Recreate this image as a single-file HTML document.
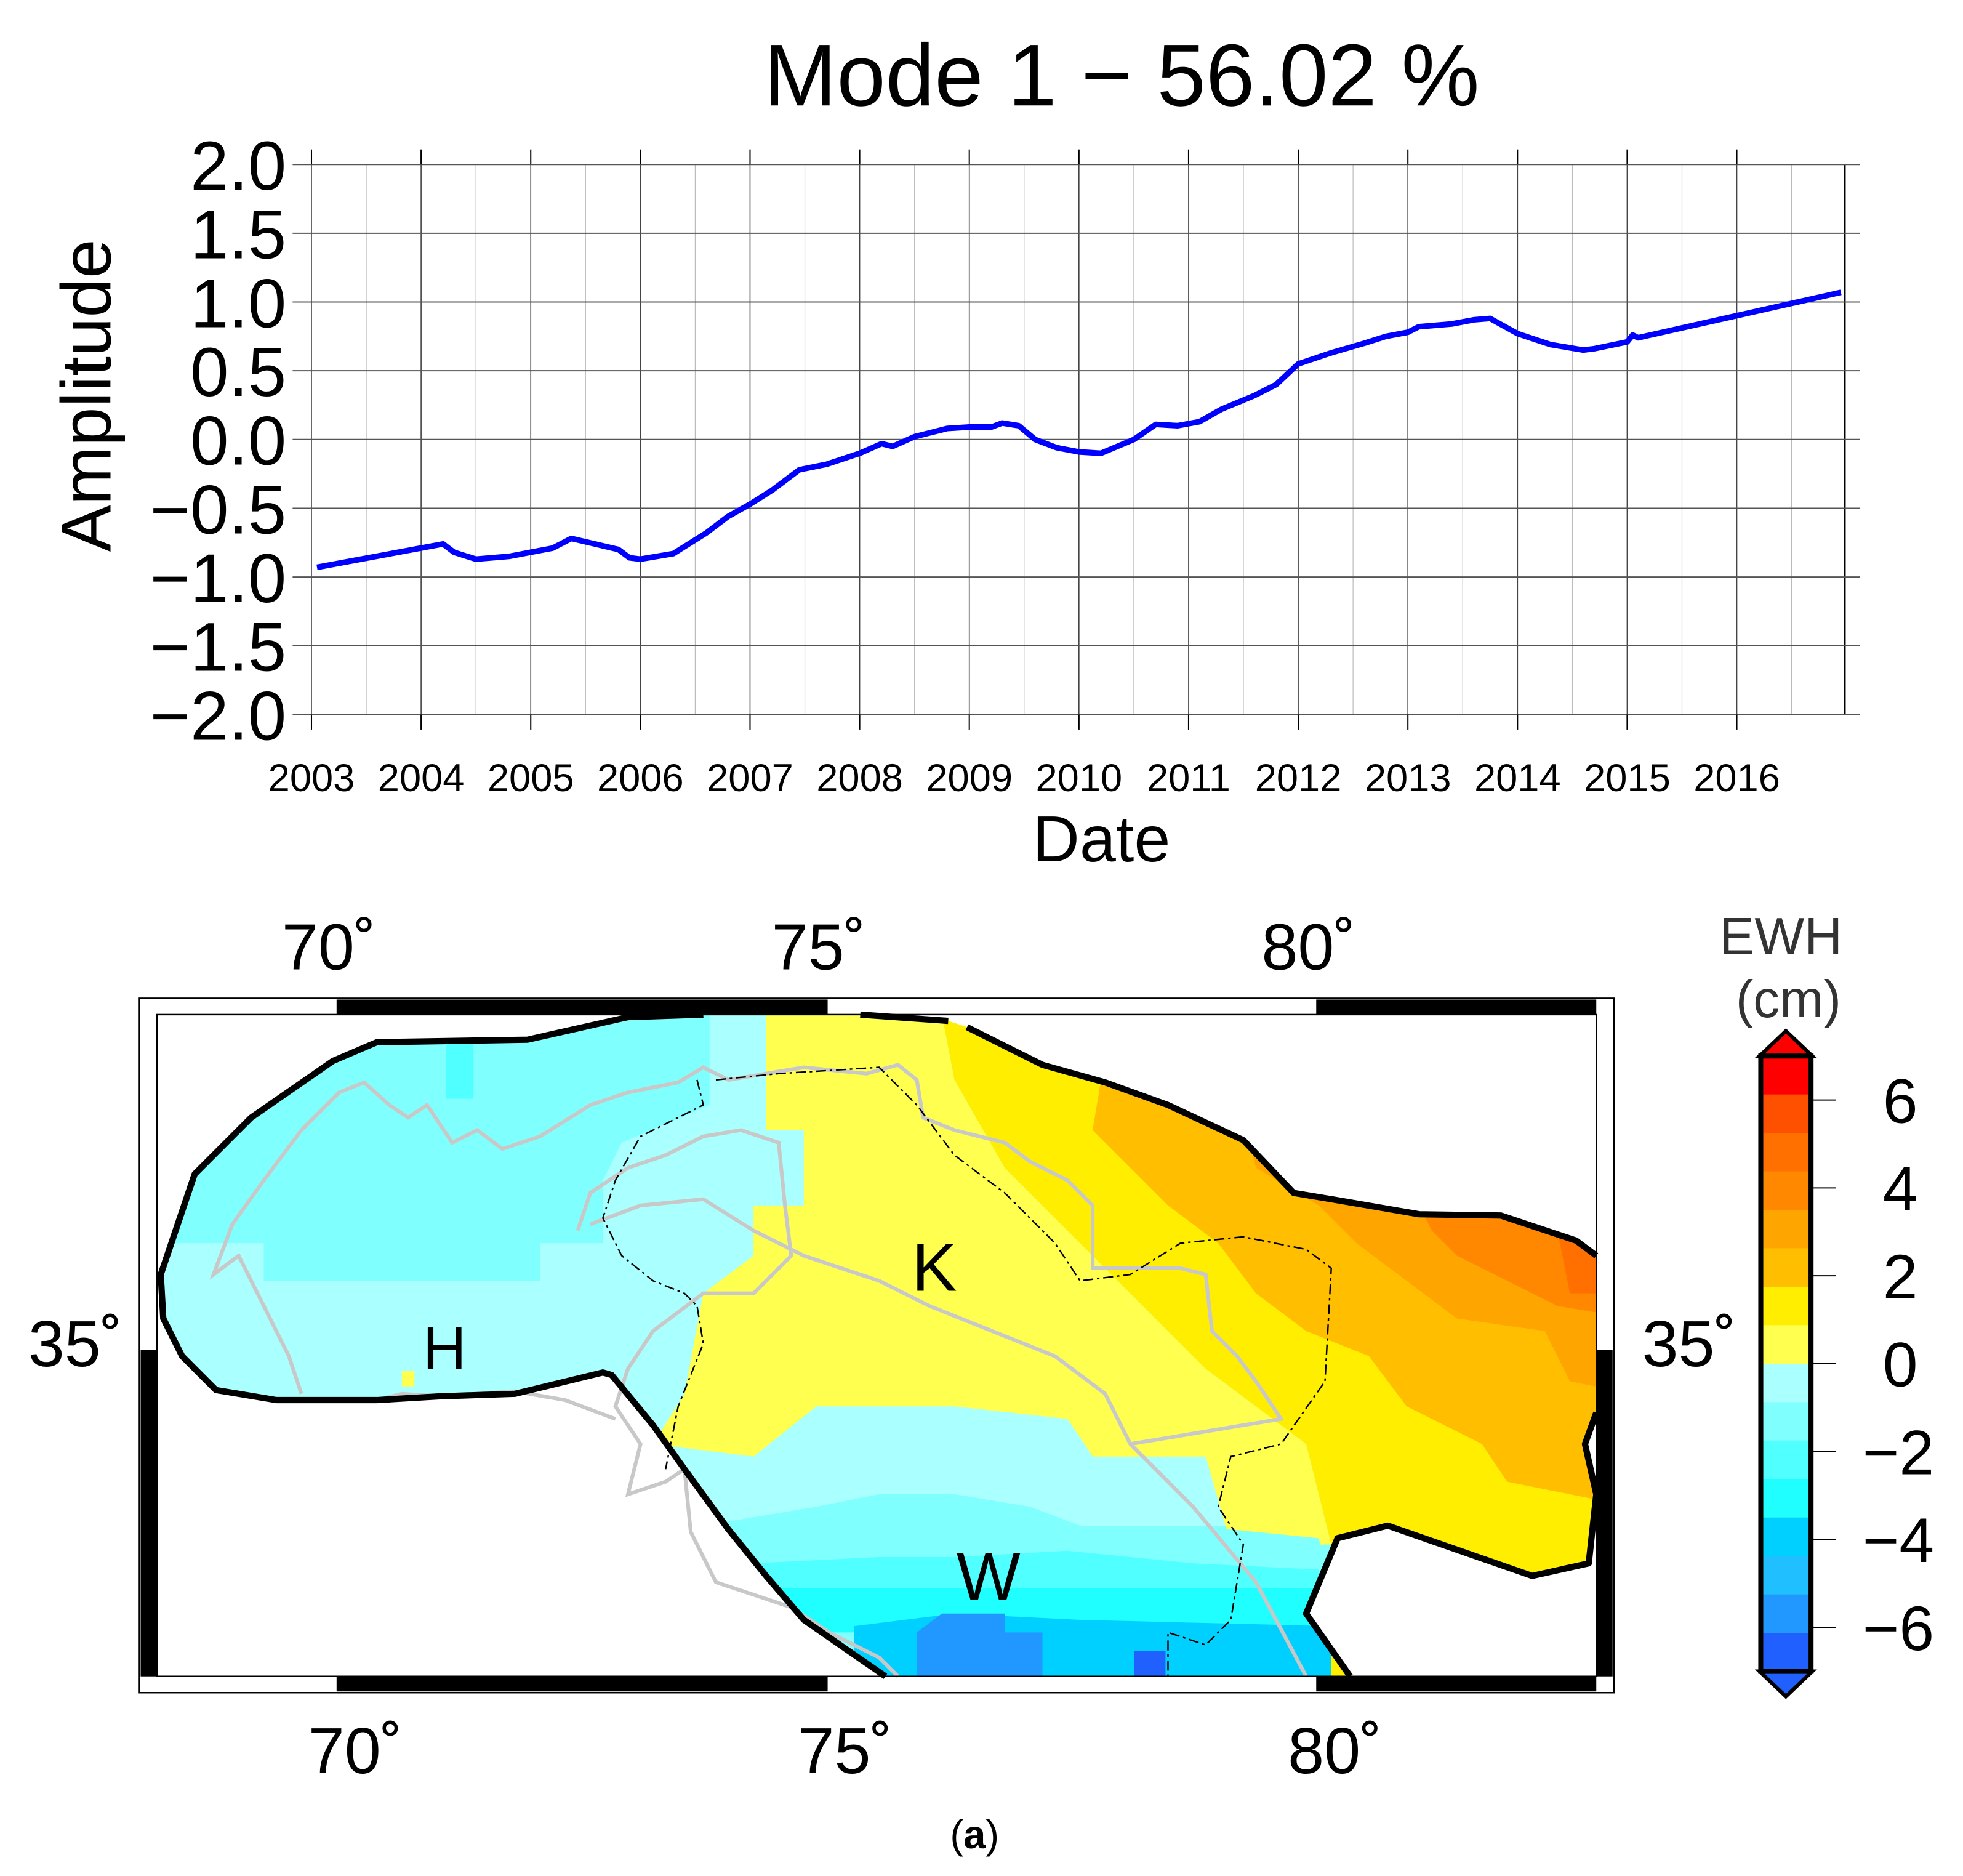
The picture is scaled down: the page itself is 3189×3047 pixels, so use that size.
<!DOCTYPE html>
<html><head><meta charset="utf-8"><style>
html,body{margin:0;padding:0;background:#fff;}
svg{display:block;}
text{font-family:"Liberation Sans",sans-serif;}
</style></head><body>
<svg id="fig" width="3189" height="3047" viewBox="0 0 1563 1494" preserveAspectRatio="none" xmlns="http://www.w3.org/2000/svg">
<rect width="1563" height="1494" fill="#fff"/>
<g id="chart">
  <text x="893" y="84" font-size="70" text-anchor="middle">Mode 1 − 56.02 %</text>
  <g id="grid"></g>
  <g id="yticks"></g>
  <g id="xticks"></g>
  <text transform="translate(88,315) rotate(-90)" font-size="56" text-anchor="middle">Amplitude</text>
  <text x="877" y="686" font-size="52" text-anchor="middle">Date</text>
  <path id="series" fill="none" stroke="#0000ff" stroke-width="4.5" stroke-linejoin="round"/>
</g>

<g id="map">
  <defs>
    <clipPath id="outlineClip">
      <path d="M560,808 L685,808 L755,813 L770,818 L830,848 L880,862 L930,880 L990,908 L1030,950 L1060,955 L1130,967 L1195,968 L1255,988 L1271,1000 L1271,1125 L1262,1150 L1271,1190 L1265,1245 L1220,1255 L1105,1215 L1065,1225 L1040,1285 L1075,1335 L705,1335 L640,1290 L610,1255 L580,1218 L545,1170 L520,1135 L487,1095 L480,1093 L410,1110 L350,1112 L300,1115 L220,1115 L172,1107 L145,1080 L130,1050 L128,1015 L155,935 L200,890 L265,845 L300,830 L420,828 L500,810 Z"/>
    </clipPath>
  </defs>
  <g clip-path="url(#outlineClip)">
    <rect x="120" y="800" width="1160" height="540" fill="#80ffff"/>
    <rect x="355" y="830" width="22" height="45" fill="#50ffff"/>
    <path fill="#aaffff" d="M130,990 L210,990 L210,1020 L430,1020 L430,990 L480,990 L480,940 L495,910 L565,880 L565,808 L615,808 L615,900 L640,900 L640,960 L600,960 L600,1000 L560,1030 L545,1110 L520,1200 L120,1200 Z"/>
    <path fill="#aaffff" d="M500,1100 L1100,1100 L1100,1215 L860,1215 L820,1200 L760,1190 L700,1190 L650,1200 L560,1215 L500,1215 Z"/>
    <path fill="#ffff50" d="M610,808 L750,808 L760,860 L800,930 L870,1000 L960,1090 L1040,1150 L1060,1230 L980,1230 L960,1160 L870,1160 L850,1130 L760,1120 L650,1120 L600,1160 L520,1150 L545,1110 L560,1030 L600,1000 L600,960 L640,960 L640,900 L610,900 Z"/>
    <path fill="#ffee00" d="M750,808 L880,840 L1300,840 L1300,1340 L1060,1340 L1060,1230 L1040,1150 L960,1090 L870,1000 L800,930 L760,860 Z"/>
    <path fill="#ffbe00" d="M880,840 L1300,840 L1300,1200 L1250,1190 L1200,1180 L1180,1150 L1120,1120 L1090,1080 L1040,1060 L1000,1030 L970,990 L930,960 L890,920 L870,900 Z"/>
    <path fill="#ffa500" d="M990,890 L1300,890 L1300,1110 L1250,1100 L1230,1060 L1160,1050 L1120,1020 L1080,990 L1050,960 L1000,930 Z"/>
    <path fill="#ff8800" d="M1130,960 L1300,960 L1300,1050 L1240,1040 L1200,1020 L1160,1000 L1140,980 Z"/>
    <path fill="#ff7000" d="M1240,980 L1300,980 L1300,1030 L1250,1030 Z"/>
    <path fill="#80ffff" d="M560,1215 L650,1200 L700,1190 L760,1190 L820,1200 L860,1215 L950,1215 L1050,1225 L1060,1265 L560,1265 Z"/>
    <path fill="#50ffff" d="M600,1245 L700,1240 L760,1240 L850,1235 L950,1245 L1050,1250 L1060,1290 L600,1290 Z"/>
    <path fill="#20ffff" d="M620,1265 L1050,1265 L1050,1300 L620,1300 Z"/>
    <path fill="#00d0ff" d="M680,1295 L760,1285 L860,1290 L1060,1295 L1060,1340 L680,1340 Z"/>
    <path fill="#2098ff" d="M730,1300 L750,1285 L800,1285 L800,1300 L830,1300 L830,1340 L730,1340 Z"/>
    <rect x="903" y="1315" width="25" height="20" fill="#2060ff"/>
    <rect x="320" y="1092" width="10" height="12" fill="#ffff50"/>
  </g>
  <g fill="none" stroke="#c8c8c8" stroke-width="3">
    <path d="M240,1110 L230,1080 L205,1030 L190,1000 L170,1015 L185,975 L210,940 L240,900 L270,870 L290,862 L310,880 L325,890 L340,880 L350,895 L360,910 L380,900 L400,915 L430,905 L470,880 L500,870 L540,862 L560,850 L580,860 L610,855 L640,850 L690,855 L715,848 L730,860 L735,890 L760,900 L800,910 L820,925 L850,940 L870,960 L870,1010 L900,1010 L940,1010 L960,1015 L965,1060 L985,1080 L1000,1100 L1020,1130 L960,1140 L900,1150"/>
    <path d="M460,980 L470,950 L500,930 L530,920 L560,905 L590,900 L620,910 L625,960 L630,1000 L600,1030 L560,1030 L520,1060 L500,1090 L490,1120 L510,1150 L500,1190 L530,1180 L545,1170 L550,1220 L570,1260 L600,1270 L630,1280 L660,1300 L700,1320 L715,1335"/>
    <path d="M470,975 L510,960 L560,955 L600,980 L640,1000 L700,1020 L740,1040 L790,1060 L840,1080 L880,1110 L900,1150 L950,1200 L1000,1260 L1040,1335"/>
    <path d="M300,1115 L320,1110 L350,1112 L380,1110 L410,1108 L450,1115 L490,1130"/>
  </g>
  <g fill="none" stroke="#000" stroke-width="1.2" stroke-dasharray="8,3,2,3">
    <path d="M555,860 L560,880 L510,905 L490,940 L480,970 L495,1000 L520,1020 L545,1030 L555,1040 L560,1070 L540,1120 L530,1170"/>
    <path d="M570,860 L620,855 L700,850 L730,880 L760,920 L800,950 L840,990 L860,1020 L900,1015 L940,990 L990,985 L1040,995 L1060,1010 L1055,1100 L1020,1150 L980,1160 L970,1200 L990,1230 L980,1290 L960,1310 L930,1300 L930,1335"/>
  </g>
  <path fill="none" stroke="#000" stroke-width="5" stroke-linejoin="round" d="M560,808 L500,810 L420,828 L300,830 L265,845 L200,890 L155,935 L128,1015 L130,1050 L145,1080 L172,1107 L220,1115 L300,1115 L350,1112 L410,1110 L480,1093 L487,1095 L520,1135 L545,1170 L580,1218 L610,1255 L640,1290 L705,1335 M685,808 L755,813 M770,818 L830,848 L880,862 L930,880 L990,908 L1030,950 L1060,955 L1130,967 L1195,968 L1255,988 L1271,1000 M1271,1125 L1262,1150 L1271,1190 L1265,1245 L1220,1255 L1105,1215 L1065,1225 L1040,1285 L1075,1335"/>
  <g>
    <rect x="111" y="795" width="1174" height="553" fill="none" stroke="#000" stroke-width="1.2"/>
    <rect x="125" y="808" width="1146" height="527" fill="none" stroke="#000" stroke-width="1.2"/>
    <rect x="268" y="796" width="391" height="12" fill="#000"/>
    <rect x="1048" y="796" width="223" height="12" fill="#000"/>
    <rect x="268" y="1335" width="391" height="12" fill="#000"/>
    <rect x="1048" y="1335" width="223" height="12" fill="#000"/>
    <rect x="112" y="1075" width="13" height="260" fill="#000"/>
    <rect x="1271" y="1075" width="13" height="260" fill="#000"/>
  </g>
  <g font-size="52">
    <text x="262" y="772" text-anchor="middle">70˚</text>
    <text x="652" y="772" text-anchor="middle">75˚</text>
    <text x="1042" y="772" text-anchor="middle">80˚</text>
    <text x="283" y="1412" text-anchor="middle">70˚</text>
    <text x="673" y="1412" text-anchor="middle">75˚</text>
    <text x="1063" y="1412" text-anchor="middle">80˚</text>
    <text x="60" y="1088" text-anchor="middle">35˚</text>
    <text x="1345" y="1088" text-anchor="middle">35˚</text>
    <text x="354" y="1090" text-anchor="middle" font-size="48">H</text>
    <text x="744" y="1028" text-anchor="middle" font-size="54">K</text>
    <text x="787" y="1274" text-anchor="middle" font-size="54">W</text>
  </g>
  <g id="colorbar">
    <text x="1418" y="760" font-size="42" text-anchor="middle" fill="#333">EWH</text>
    <text x="1424" y="810" font-size="42" text-anchor="middle" fill="#333">(cm)</text>
  </g>
</g>
<text x="776" y="1472" font-size="32" text-anchor="middle" font-family="Liberation Serif, serif">(<tspan font-weight="bold">a</tspan>)</text>
</svg>
<script>
const yearTicks=[2003,2004,2005,2006,2007,2008,2009,2010,2011,2012,2013,2014,2015,2016];
const yTicks=[2.0,1.5,1.0,0.5,0.0,-0.5,-1.0,-1.5,-2.0];
const seriesDates=[2003.05,2004.2,2004.3,2004.5,2004.8,2005.2,2005.37,2005.8,2005.9,2006.0,2006.3,2006.6,2006.8,2007.0,2007.2,2007.45,2007.7,2008.0,2008.2,2008.3,2008.5,2008.8,2009.0,2009.2,2009.3,2009.45,2009.6,2009.8,2010.0,2010.2,2010.5,2010.7,2010.9,2011.1,2011.3,2011.6,2011.8,2012.0,2012.3,2012.6,2012.8,2013.0,2013.1,2013.4,2013.6,2013.75,2014.0,2014.3,2014.6,2014.7,2015.0,2015.05,2015.1,2016.95];
const seriesValues=[-0.93,-0.76,-0.82,-0.87,-0.85,-0.79,-0.72,-0.80,-0.86,-0.87,-0.83,-0.68,-0.56,-0.47,-0.37,-0.22,-0.18,-0.10,-0.03,-0.05,0.02,0.08,0.09,0.09,0.12,0.10,0.0,-0.06,-0.09,-0.10,0.0,0.11,0.10,0.13,0.22,0.32,0.40,0.55,0.63,0.70,0.75,0.78,0.82,0.84,0.87,0.88,0.77,0.69,0.65,0.66,0.71,0.76,0.74,1.07];
const cbValues=[7,6.125,5.25,4.375,3.5,2.625,1.75,0.875,0,-0.875,-1.75,-2.625,-3.5,-4.375,-5.25,-6.125,-7];
const cbColors=["#ff0000","#ff5000","#ff7000","#ff8800","#ffa500","#ffbe00","#ffee00","#ffff50","#aaffff","#80ffff","#50ffff","#20ffff","#00d0ff","#20bfff","#2098ff","#2060ff"];
const cbTicks=[6,4,2,0,-2,-4,-6];
const NS="http://www.w3.org/2000/svg";
const X0=248,PX=87.3,YT=131,YB=569;
const xs=d=>X0+(d-2003)*PX;
const ys=v=>YT+(2-v)*(YB-YT)/4;
function mk(tag,parent,attrs){const e=document.createElementNS(NS,tag);for(const k in attrs)e.setAttribute(k,attrs[k]);parent.appendChild(e);return e;}
const grid=document.getElementById('grid');
for(let h=0;h<=28;h++){
  const x=xs(2003+h*0.5);if(x>1470)break;
  const l=mk('line',grid,{x1:x,x2:x,y1:YT,y2:YB,stroke:h%2?'#bbb':'#444','stroke-width':h%2?0.6:0.8});
  
  
}
const xr=mk('line',grid,{x1:1469,x2:1469,y1:YT,y2:YB,stroke:'#000','stroke-width':1.2});


const yt=document.getElementById('yticks');
yTicks.forEach(v=>{
  const y=ys(v);
  const l=mk('line',yt,{x1:233,x2:1481,y1:y,y2:y,stroke:'#555','stroke-width':1});
  
  
  const t=mk('text',yt,{x:228,y:y+20,'font-size':55,'text-anchor':'end'});
  t.textContent=(v<0?'−':'')+Math.abs(v).toFixed(1);
  
  
});
const xt=document.getElementById('xticks');
yearTicks.forEach(d=>{
  const x=xs(d);
  const l=mk('line',xt,{x1:x,x2:x,y1:119,y2:YT,stroke:'#000','stroke-width':1});
  
  
  const l2=mk('line',xt,{x1:x,x2:x,y1:YB,y2:581,stroke:'#000','stroke-width':1});
  
  
  const t=mk('text',xt,{x:x,y:630,'font-size':31,'text-anchor':'middle'});
  t.textContent=d;
  
  
});
document.getElementById('series').setAttribute('d',seriesDates.map((d,i)=>(i?'L':'M')+xs(d).toFixed(1)+','+ys(seriesValues[i]).toFixed(1)).join(' '));
const cb=document.getElementById('colorbar');
const CT=841,CB=1331,CL=1404,CR=1440;
const cy=v=>CT+(7-v)*(CB-CT)/14;
cbColors.forEach((c,i)=>{
  const r=mk('rect',cb,{x:CL,y:cy(cbValues[i]),width:CR-CL,height:cy(cbValues[i+1])-cy(cbValues[i])+0.3,fill:c});
  
  
});
const tri1=mk('polygon',cb,{points:`${CL-3},${CT} ${(CL+CR)/2},${CT-20} ${CR+3},${CT}`,fill:'#ff0000',stroke:'#000','stroke-width':3});


const tri2=mk('polygon',cb,{points:`${CL-3},${CB} ${(CL+CR)/2},${CB+20} ${CR+3},${CB}`,fill:'#2060ff',stroke:'#000','stroke-width':3});


const fr=mk('rect',cb,{x:CL-2,y:CT,width:CR-CL+4,height:CB-CT,fill:'none',stroke:'#000','stroke-width':4});


cbTicks.forEach(v=>{
  const y=cy(v);
  const l=mk('line',cb,{x1:CR+2,x2:1462,y1:y,y2:y,stroke:'#000','stroke-width':1});
  
  
  const t=mk('text',cb,{x:v<0?1540:1527,y:y+18,'font-size':50,'text-anchor':'end'});
  t.textContent=(v<0?'−':'')+Math.abs(v);
  
  
});
</script>
</body></html>
